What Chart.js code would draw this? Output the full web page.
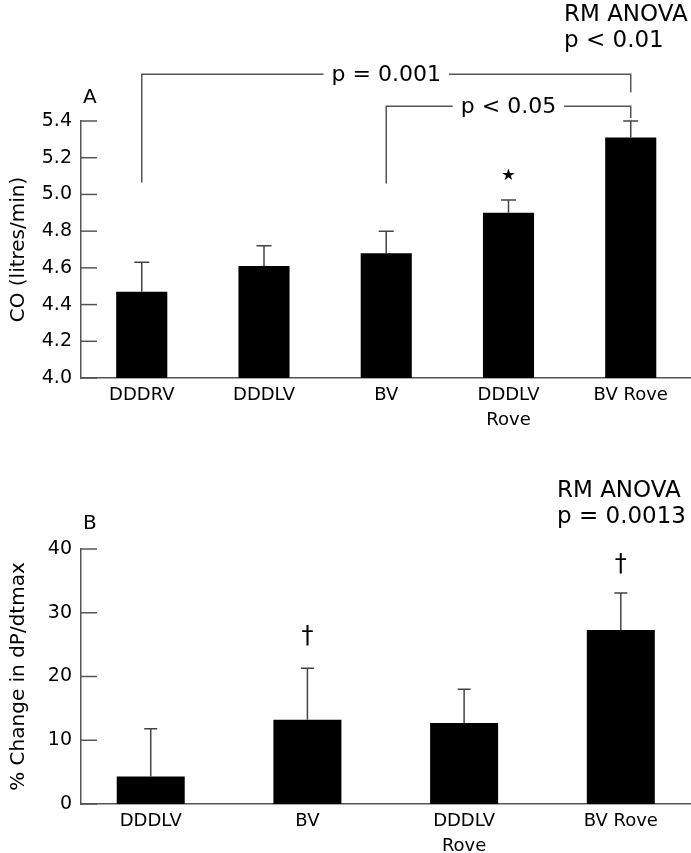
<!DOCTYPE html>
<html>
<head>
<meta charset="utf-8">
<script src="https://cdn.jsdelivr.net/npm/chart.js@4.4.0/dist/chart.umd.min.js"></script>
<style>
  html, body { margin: 0; padding: 0; background: #fff; }
  #wrap { position: relative; width: 691px; height: 853px; }
  .panel { position: absolute; left: 0; width: 691px; }
  #panelA { top: 0; height: 440px; }
  #panelB { top: 440px; height: 413px; }
</style>
</head>
<body>
<div id="wrap">
  <div class="panel" id="panelA"><canvas id="chartA"></canvas></div>
  <div class="panel" id="panelB"><canvas id="chartB"></canvas></div>
</div>
<script>
// Panel A - cardiac output
const coLabels = ['DDDRV', 'DDDLV', 'BV', ['DDDLV', 'Rove'], 'BV Rove'];
const coMeans = [4.47, 4.61, 4.68, 4.90, 5.31];
const coErrTops = [4.63, 4.72, 4.80, 4.97, 5.40];
const coTicks = [4.0, 4.2, 4.4, 4.6, 4.8, 5.0, 5.2, 5.4];

// Panel B - % change in dP/dtmax
const dpLabels = ['DDDLV', 'BV', ['DDDLV', 'Rove'], 'BV Rove'];
const dpMeans = [4.3, 13.2, 12.7, 27.3];
const dpErrTops = [11.8, 21.3, 18.0, 33.1];
const dpTicks = [0, 10, 20, 30, 40];

const FONT = '"DejaVu Sans", sans-serif';
const AXIS = '#555';

// draws inward ticks, error bars, brackets and the text notes
const figurePlugin = {
    id: 'figure',
    afterDatasetsDraw(chart, args, opts) {
        const ctx = chart.ctx;
        const xs = chart.scales.x;
        const ys = chart.scales.y;
        const left = chart.chartArea.left;
        ctx.save();

        // y ticks point into the plot
        ctx.strokeStyle = AXIS;
        ctx.lineWidth = 1.5;
        ys.ticks.forEach(t => {
            const py = ys.getPixelForValue(t.value);
            ctx.beginPath();
            ctx.moveTo(left, py);
            ctx.lineTo(left + 16, py);
            ctx.stroke();
        });

        // upper error bars
        ctx.strokeStyle = '#444';
        ctx.lineWidth = 1.5;
        const meta = chart.getDatasetMeta(0);
        opts.errTops.forEach((v, i) => {
            const bar = meta.data[i];
            const top = ys.getPixelForValue(v);
            ctx.beginPath();
            ctx.moveTo(bar.x, bar.y);
            ctx.lineTo(bar.x, top);
            ctx.moveTo(bar.x - opts.cap / 2, top);
            ctx.lineTo(bar.x + opts.cap / 2, top);
            ctx.stroke();
        });

        // significance brackets
        ctx.font = '22px ' + FONT;
        ctx.fillStyle = '#000';
        ctx.textAlign = 'center';
        ctx.textBaseline = 'middle';
        ctx.strokeStyle = AXIS;
        (opts.brackets || []).forEach(b => {
            const x1 = xs.getPixelForValue(b.from);
            const x2 = xs.getPixelForValue(b.to);
            const py = ys.getPixelForValue(b.y);
            const mid = (x1 + x2) / 2;
            const half = ctx.measureText(b.text).width / 2 + 8;
            ctx.beginPath();
            ctx.moveTo(x1, ys.getPixelForValue(b.leftEnd));
            ctx.lineTo(x1, py);
            ctx.lineTo(mid - half, py);
            ctx.moveTo(mid + half, py);
            ctx.lineTo(x2, py);
            ctx.lineTo(x2, ys.getPixelForValue(b.rightEnd));
            ctx.stroke();
            ctx.fillText(b.text, mid, py + 1);
        });

        // star / dagger marks
        (opts.marks || []).forEach(m => {
            ctx.font = m.size + 'px ' + FONT;
            ctx.fillText(m.text, xs.getPixelForValue(m.at), ys.getPixelForValue(m.y));
        });

        // panel letter and RM ANOVA notes
        ctx.textAlign = 'left';
        ctx.textBaseline = 'alphabetic';
        (opts.notes || []).forEach(n => {
            ctx.font = n.size + 'px ' + FONT;
            n.lines.forEach((line, k) => ctx.fillText(line, n.x, n.y + k * 26));
        });
        ctx.restore();
    }
};

function makePanel(canvasId, labels, means, errTops, ticks, cfg) {
    return new Chart(document.getElementById(canvasId), {
        type: 'bar',
        data: {
            labels: labels.map((l, i) => i),
            datasets: [{
                data: means.map((v, i) => ({ x: i, y: v })),
                backgroundColor: '#000',
                borderWidth: 0,
                barPercentage: 1,
                categoryPercentage: cfg.barFrac
            }]
        },
        options: {
            responsive: true,
            maintainAspectRatio: false,
            animation: false,
            layout: { padding: { top: cfg.padTop, bottom: 0, left: 0, right: 0 } },
            plugins: {
                legend: { display: false },
                tooltip: { enabled: false },
                figure: cfg.figure
            },
            scales: {
                x: {
                    type: 'linear',
                    offset: false,
                    min: cfg.xMin,
                    max: cfg.xMax,
                    afterBuildTicks: s => { s.ticks = labels.map((l, i) => ({ value: i })); },
                    afterFit: s => { s.height = cfg.xAxisHeight; },
                    grid: { display: false, drawTicks: false },
                    border: { display: true, color: AXIS, width: 1.5 },
                    ticks: {
                        autoSkip: false,
                        maxRotation: 0,
                        padding: 5,
                        color: '#000',
                        font: { family: FONT, size: 18, lineHeight: 1.4 },
                        callback: v => labels[v]
                    }
                },
                y: {
                    min: ticks[0],
                    max: ticks[ticks.length - 1],
                    afterBuildTicks: s => { s.ticks = ticks.map(v => ({ value: v })); },
                    afterFit: s => { s.width = 81; },
                    grid: { display: false, drawTicks: false },
                    border: { display: true, color: AXIS, width: 1.5 },
                    ticks: {
                        padding: 9,
                        color: '#000',
                        font: { family: FONT, size: 19 },
                        callback: cfg.tickFmt
                    },
                    title: {
                        display: true,
                        text: cfg.yTitle,
                        color: '#000',
                        font: { family: FONT, size: 20 },
                        padding: { top: 7, bottom: 0 }
                    }
                }
            }
        },
        plugins: [figurePlugin]
    });
}

makePanel('chartA', coLabels, coMeans, coErrTops, coTicks, {
    barFrac: 0.418,
    xMin: -0.497,
    xMax: 4.493,
    padTop: 121,
    xAxisHeight: 62,
    yTitle: 'CO (litres/min)',
    tickFmt: v => v.toFixed(1),
    figure: {
        errTops: coErrTops,
        cap: 15,
        brackets: [
            { from: 0, to: 4, y: 5.655, leftEnd: 5.065, rightEnd: 5.555, text: 'p = 0.001' },
            { from: 2, to: 4, y: 5.48, leftEnd: 5.06, rightEnd: 5.417, text: 'p < 0.05' }
        ],
        marks: [{ at: 3, y: 5.10, text: '\u2605', size: 16 }],
        notes: [
            { x: 83, y: 103, size: 20, lines: ['A'] },
            { x: 564, y: 21, size: 23, lines: ['RM ANOVA', 'p < 0.01'] }
        ]
    }
});

makePanel('chartB', dpLabels, dpMeans, dpErrTops, dpTicks, {
    barFrac: 0.434,
    xMin: -0.445,
    xMax: 3.448,
    padTop: 109,
    xAxisHeight: 49,
    yTitle: '% Change in dP/dtmax',
    tickFmt: v => v,
    figure: {
        errTops: dpErrTops,
        cap: 13,
        marks: [
            { at: 1, y: 26.3, text: '\u2020', size: 24 },
            { at: 3, y: 37.6, text: '\u2020', size: 24 }
        ],
        notes: [
            { x: 83, y: 89, size: 20, lines: ['B'] },
            { x: 557, y: 57, size: 23, lines: ['RM ANOVA', 'p = 0.0013'] }
        ]
    }
});
</script>
</body>
</html>
